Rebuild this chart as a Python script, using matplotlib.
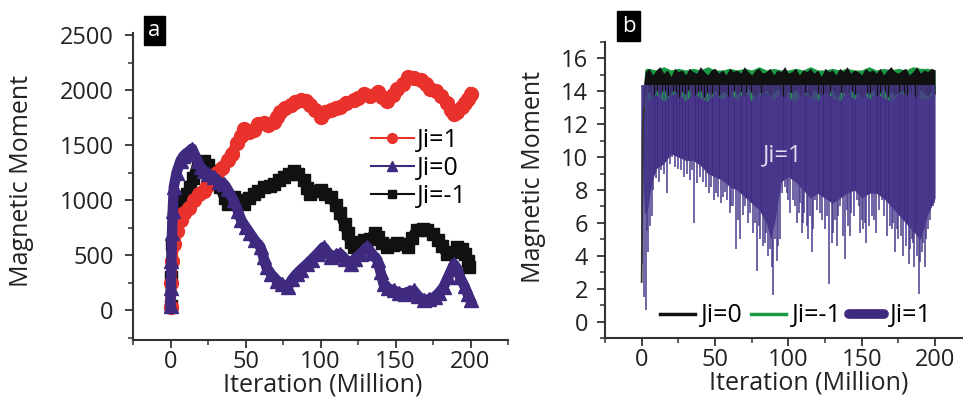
import numpy as np
import matplotlib
matplotlib.use('Agg')
import matplotlib.pyplot as plt
from matplotlib.lines import Line2D
from matplotlib.ticker import MultipleLocator

plt.rcParams['font.family'] = ['Open Sans', 'DejaVu Sans']

# ---- panel a data (Iteration in Million, Magnetic Moment) ----
red_x = [0, 0.5, 1, 2.5, 4.5, 7, 9, 12, 15.5, 19, 22, 24, 27, 31, 34, 38, 41, 44, 47, 49,
         52, 55.5, 58, 62, 65, 69, 71, 73, 76, 80, 83, 87, 90, 93, 96, 100, 103, 107, 110,
         113, 117, 122, 125, 129, 133, 138, 141, 144, 148, 151, 155, 158, 162, 167, 170,
         173, 177, 180, 184, 187, 189, 191, 194, 196, 198, 200]
red_y = [30, 250, 450, 600, 720, 820, 880, 930, 1000, 1060, 1080, 1130, 1180, 1250, 1290,
         1370, 1420, 1520, 1580, 1650, 1620, 1640, 1690, 1700, 1680, 1710, 1760, 1800, 1840,
         1870, 1890, 1910, 1900, 1870, 1820, 1760, 1800, 1820, 1840, 1850, 1880, 1910, 1930,
         1970, 1950, 1980, 1940, 1900, 1960, 2010, 2060, 2120, 2110, 2090, 2060, 2010, 1990,
         1950, 1880, 1820, 1780, 1800, 1850, 1880, 1920, 1970]

purple_x = [0, 0.3, 0.6, 1, 1.5, 2.2, 4, 6.7, 8.5, 10, 12, 14.4, 16, 18, 20, 22, 25, 29, 32,
            35.5, 38, 42, 45, 47, 50, 53, 56, 60, 62, 64, 67, 71, 74, 78, 81, 84, 87, 91, 94,
            98, 102, 104, 107, 110, 113, 116, 120, 123, 127, 131, 134, 138, 140, 142, 145,
            149, 152, 156, 159, 162, 165, 169, 172, 176, 179, 182, 185, 189, 191, 193, 196,
            198, 200]
purple_y = [40, 200, 450, 700, 900, 1120, 1250, 1360, 1400, 1420, 1440, 1470, 1420, 1360,
            1300, 1270, 1240, 1210, 1170, 1150, 1100, 1000, 900, 820, 760, 700, 640, 575, 480,
            390, 330, 270, 240, 210, 280, 330, 370, 420, 460, 515, 575, 540, 485, 500, 515,
            470, 420, 470, 515, 575, 520, 455, 350, 240, 200, 180, 160, 150, 170, 180, 130,
            90, 100, 120, 160, 210, 300, 420, 380, 300, 220, 150, 90]

black_x = [0, 0.5, 1, 2, 4.4, 7, 9, 11, 13, 15, 18, 20, 22, 25, 27, 30, 33, 36, 38, 40, 42,
           45, 49, 52, 55.5, 58, 62, 66, 69, 72, 75.5, 79, 82, 85, 89, 91, 93, 96, 100, 103,
           107, 110, 113, 116, 118, 120, 122, 126, 129, 133, 136, 138, 141, 144, 148, 151,
           155, 158, 161, 164, 168, 171, 175, 178, 181, 184, 188, 191, 194, 196, 198, 199]
black_y = [40, 300, 600, 850, 1030, 1020, 1000, 1060, 1120, 1200, 1330, 1350, 1360, 1320,
           1270, 1200, 1120, 1020, 970, 1000, 1030, 1000, 970, 1020, 1060, 1080, 1120, 1130,
           1150, 1180, 1210, 1240, 1270, 1240, 1180, 1110, 1060, 1080, 1090, 1060, 1030, 960,
           880, 780, 700, 620, 575, 600, 640, 650, 700, 670, 610, 575, 590, 610, 600, 575,
           660, 730, 740, 730, 690, 640, 580, 515, 530, 575, 560, 515, 450, 390]

# ---- panel b data ----
band_x = [0, 0.8, 1.5] + list(np.arange(2.5, 200.1, 2.5))
black_hi = [2.4, 12.6, 14.6,
            15.2, 15.4, 15.0, 15.3, 15.5, 15.1, 15.3, 14.9, 15.4, 15.2,
            15.3, 15.0, 15.4, 15.2, 15.1, 15.5, 15.2, 15.0, 15.3, 15.4,
            15.1, 15.3, 15.0, 15.4, 15.2, 15.3, 15.1, 15.5, 15.2, 15.0,
            15.3, 15.4, 15.1, 15.2, 15.4, 15.0, 15.3, 15.2, 15.5, 15.1,
            15.2, 15.4, 15.0, 15.3, 15.2, 15.4, 15.1, 15.3, 14.9, 15.4,
            15.2, 15.3, 15.0, 15.4, 15.2, 15.5, 15.1, 15.3, 15.2, 15.0,
            15.4, 15.2, 15.3, 15.1, 15.4, 15.0, 15.3, 15.5, 15.2, 15.1,
            15.3, 15.4, 15.0, 15.2, 15.5, 15.1, 15.3, 15.2, 15.4, 15.3]
black_lo = [2.4, 12.0, 13.0,
            13.7, 14.0, 13.6, 14.1, 13.8, 14.2, 13.7, 13.9, 14.1, 13.6,
            14.0, 13.8, 14.2, 13.7, 13.9, 14.1, 13.6, 14.0, 13.8, 14.1,
            13.7, 14.0, 13.9, 13.6, 14.1, 13.8, 14.0, 13.7, 14.2, 13.9,
            13.6, 14.0, 13.8, 14.1, 13.7, 13.9, 14.2, 13.8, 13.6, 14.0,
            13.9, 14.1, 13.7, 13.8, 14.0, 13.6, 14.1, 13.9, 13.7, 14.0,
            13.8, 14.2, 13.6, 13.9, 14.0, 13.7, 14.1, 13.8, 13.9, 13.6,
            14.0, 13.8, 14.1, 13.7, 13.9, 14.2, 13.6, 14.0, 13.8, 13.9,
            14.1, 13.7, 14.0, 13.8, 13.6, 14.1, 13.9, 13.7, 14.0, 13.8]

green_x = [1, 2, 3] + list(range(5, 201, 5))
green_hi = [13.0, 15.3, 15.4,
            15.4, 15.3, 15.5, 15.3, 15.4, 15.3, 15.4, 15.3, 15.5, 15.3,
            15.3, 15.4, 15.3, 15.4, 15.3, 15.5, 15.3, 15.4, 15.3, 15.3,
            15.4, 15.3, 15.5, 15.3, 15.3, 15.4, 15.3, 15.4, 15.3, 15.3,
            15.5, 15.3, 15.4, 15.3, 15.4, 15.3, 15.5, 15.4, 15.4, 15.3]
green_lo = [12.5, 12.8, 13.3,
            13.5, 13.8, 13.4, 13.8, 13.9, 13.4, 13.9, 13.6, 13.4, 13.9,
            13.5, 13.9, 13.5, 14.0, 13.4, 13.8, 13.9, 13.5, 14.0, 13.6,
            13.4, 13.9, 13.6, 13.5, 14.0, 13.6, 13.4, 13.9, 13.5, 14.0,
            13.5, 13.9, 13.6, 13.4, 13.9, 13.8, 14.0, 13.5, 13.6, 13.9]

body_x = [0, 1, 2, 4, 6, 8, 10, 15, 20, 25, 30, 35, 40, 45, 50, 55, 60, 65, 70, 75, 80, 85,
          88, 91, 95, 100, 105, 110, 115, 120, 125, 130, 135, 140, 145, 150, 155, 160, 165,
          170, 175, 180, 185, 190, 195, 200]
body_low = [12.5, 8.5, 6.5, 6.8, 8.0, 8.8, 9.3, 9.6, 10.2, 10.0, 9.8, 9.8, 9.5, 9.0, 8.8,
            8.6, 8.2, 8.0, 7.6, 7.2, 6.8, 6.0, 5.0, 6.2, 8.5, 8.8, 8.5, 8.0, 7.5, 7.8, 7.5,
            7.2, 7.5, 7.8, 8.0, 7.5, 7.8, 7.8, 7.5, 7.0, 6.5, 6.0, 5.5, 5.0, 6.5, 7.5]
body_top = 14.4

# deep spikes
spike_x = [0.5, 1.5, 2.7, 4.5, 6.8, 15, 17, 25, 27, 36, 40, 44, 49, 52, 58, 61, 64, 67, 70.5,
           72.7, 76, 78.4, 81, 84, 86, 88.6, 89.8, 92, 94, 99, 101, 103, 107, 109, 111, 113.6,
           116, 118, 121.6, 125, 128, 130.7, 133, 135, 138.6, 141, 143, 146.6, 149, 151, 153,
           157, 160, 163.6, 167, 170.5, 172.7, 175, 178, 182, 184, 186, 189, 191, 193, 195.5,
           197.7, 199]
spike_low = [3.5, 1.5, 0.7, 4.2, 6.4, 9.0, 7.8, 9.3, 9.2, 6.0, 8.8, 8.2, 7.4, 7.6, 7.4, 7.0,
             4.4, 5.0, 7.0, 6.0, 5.4, 3.1, 5.0, 4.8, 4.0, 3.3, 1.6, 3.7, 5.0, 7.8, 6.6, 7.4,
             6.6, 5.4, 6.6, 5.0, 4.2, 7.4, 6.6, 5.6, 2.3, 5.4, 4.6, 7.0, 3.8, 5.8, 6.6, 7.4,
             5.4, 5.6, 4.8, 6.4, 5.4, 7.4, 5.2, 5.6, 4.2, 5.0, 4.0, 3.5, 5.0, 3.3, 1.7, 4.2,
             3.3, 5.6, 7.4, 7.2]
# shorter spikes in between
spike2_x = [3.5, 5.5, 8, 10, 12, 13.5, 19, 21, 23, 29, 31, 33, 34.5, 38, 42, 46, 47.5, 51, 54,
            55.5, 57, 60, 62.5, 66, 69, 74, 77, 80, 82.5, 85, 87.5, 91, 93, 95.5, 97.5, 100,
            104.5, 106, 108, 110, 112.5, 115, 117, 119.5, 123, 126.5, 129.5, 132, 134, 137,
            140, 142, 145, 148, 150, 152, 155, 158.5, 162, 165.5, 169, 171.5, 174, 176.5, 180,
            183, 185, 187.5, 190, 192, 194, 196.5, 198.5]
spike2_low = [5.5, 5.8, 8.0, 8.7, 8.5, 9.2, 9.6, 10.0, 9.4, 8.8, 9.0, 8.6, 9.2, 8.4, 8.5, 7.8,
              8.2, 7.8, 7.2, 7.6, 7.9, 6.6, 7.0, 6.2, 6.5, 6.6, 6.0, 5.8, 4.6, 5.4, 4.4, 5.0,
              4.6, 7.8, 8.2, 7.4, 7.0, 6.0, 7.2, 6.0, 5.8, 6.4, 5.6, 6.8, 6.2, 6.4, 4.8, 6.2,
              6.4, 5.2, 6.8, 5.2, 6.4, 7.0, 6.2, 6.0, 5.8, 6.2, 6.8, 6.4, 5.8, 6.0, 5.6, 5.2,
              4.6, 4.4, 4.8, 4.0, 3.6, 4.8, 5.0, 6.2, 7.0]

RED = '#e8322b'
PURPLE = '#3f2a80'
SPIKE = '#4a3a8c'
BLACK = '#111111'
GREEN = '#1a9a45'
FS = 17

W, H = 963, 405
fig = plt.figure(figsize=(W / 100, H / 100), dpi=100)


def style_axes(ax):
    for s in ['top', 'right']:
        ax.spines[s].set_visible(False)
    for s in ['left', 'bottom']:
        ax.spines[s].set_linewidth(1.5)
        ax.spines[s].set_color('#333333')
    ax.tick_params(which='major', direction='out', length=6, width=1.3, color='#333333',
                   labelsize=FS, labelcolor='#222222')
    ax.tick_params(which='minor', direction='out', length=3.5, width=1.1, color='#333333')
    ax.tick_params(axis='x', pad=1)


# ---------------- panel a ----------------
axa = fig.add_axes([133 / W, 1 - 340 / H, 375 / W, 307 / H])
axa.plot(black_x, black_y, color=BLACK, lw=7.5, marker='s', ms=9, solid_joinstyle='round')
axa.plot(red_x, red_y, color=RED, lw=7.5, marker='o', ms=10, solid_joinstyle='round')
axa.plot(purple_x, purple_y, color=PURPLE, lw=7.5, marker='^', ms=10, solid_joinstyle='round')
axa.set_xlim(-25, 225)
axa.set_ylim(-270, 2520)
axa.xaxis.set_major_locator(MultipleLocator(50))
axa.xaxis.set_minor_locator(MultipleLocator(25))
axa.yaxis.set_major_locator(MultipleLocator(500))
axa.yaxis.set_minor_locator(MultipleLocator(250))
style_axes(axa)
axa.tick_params(axis='y', pad=8)
axa.set_xlabel('Iteration (Million)', fontsize=FS + 1, color='#222222')
axa.set_ylabel('Magnetic Moment', fontsize=FS + 1, color='#222222')
axa.xaxis.set_label_coords(0.505, -0.105)
axa.yaxis.set_label_coords(-0.265, 0.518)
handles_a = [Line2D([], [], color=RED, lw=1.5, marker='o', ms=7),
             Line2D([], [], color=PURPLE, lw=1.5, marker='^', ms=7),
             Line2D([], [], color=BLACK, lw=1.5, marker='s', ms=6)]
axa.legend(handles_a, ['Ji=1', 'Ji=0', 'Ji=-1'], loc='upper left',
           bbox_to_anchor=(0.635, 0.69), frameon=False, fontsize=FS + 1,
           handlelength=1.7, handletextpad=0.15, labelspacing=0.12, borderpad=0,
           borderaxespad=0)

# ---------------- panel b ----------------
axb = fig.add_axes([605 / W, 1 - 338 / H, 366.7 / W, 296 / H])
axb.fill_between(body_x, body_low, body_top, color=PURPLE, lw=0)
axb.vlines(spike_x, spike_low, body_top, color=SPIKE, lw=1.1)
axb.vlines(spike2_x, spike2_low, body_top, color=SPIKE, lw=1.1)
axb.fill_between(green_x, green_lo, green_hi, color=GREEN, lw=0)
axb.fill_between(band_x, black_lo, black_hi, color=BLACK, lw=0)
axb.plot(band_x[:3], black_lo[:3], color='#333333', lw=1.3)
axb.text(96, 10.1, 'Ji=1', color='#e2dcf2', fontsize=FS, ha='center', va='center')
axb.set_xlim(-25, 225)
axb.set_ylim(-1, 17)
axb.xaxis.set_major_locator(MultipleLocator(50))
axb.xaxis.set_minor_locator(MultipleLocator(25))
axb.yaxis.set_major_locator(MultipleLocator(2))
axb.yaxis.set_minor_locator(MultipleLocator(1))
style_axes(axb)
axb.tick_params(axis='y', pad=6)
axb.set_xlabel('Iteration (Million)', fontsize=FS + 1, color='#222222')
axb.set_ylabel('Magnetic Moment', fontsize=FS + 1, color='#222222')
axb.xaxis.set_label_coords(0.556, -0.11)
axb.yaxis.set_label_coords(-0.16, 0.544)
handles_b = [Line2D([], [], color=BLACK, lw=2.5),
             Line2D([], [], color=GREEN, lw=2.5),
             Line2D([], [], color=PURPLE, lw=7, solid_capstyle='round')]
axb.legend(handles_b, ['Ji=0', 'Ji=-1', 'Ji=1'], loc='center left',
           bbox_to_anchor=(0.15, 0.075), frameon=False, fontsize=FS + 1, ncol=3,
           handlelength=1.4, handletextpad=0.25, columnspacing=0.3, borderpad=0,
           borderaxespad=0)

# panel letters
fig.text(154.5 / W, 1 - 30.5 / H, 'a', color='white', fontsize=16, ha='center', va='center',
         bbox=dict(boxstyle='square,pad=0.2', fc='black', ec='black'))
fig.text(628.5 / W, 1 - 26 / H, 'b', color='white', fontsize=16, ha='center', va='center',
         bbox=dict(boxstyle='square,pad=0.2', fc='black', ec='black'))

fig.savefig('out.png', dpi=100)
